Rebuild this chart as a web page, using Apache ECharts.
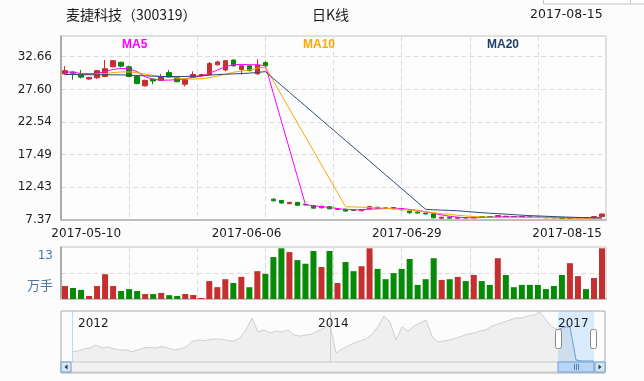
<!DOCTYPE html>
<html><head><meta charset="utf-8">
<script src="https://cdn.jsdelivr.net/npm/echarts@6/dist/echarts.min.js"></script>
<style>html,body{margin:0;padding:0;background:#fcfcfc;}#c{width:644px;height:381px;}</style>
</head><body><div id="c"></div>
<script>
// ---- data ----
const dates = [
 '2017-05-10','2017-05-11','2017-05-12','2017-05-15','2017-05-16','2017-05-17','2017-05-18','2017-05-19','2017-05-22','2017-05-23',
 '2017-05-24','2017-05-25','2017-05-26','2017-05-31','2017-06-01','2017-06-02','2017-06-05','2017-06-06','2017-06-07','2017-06-08',
 '2017-06-09','2017-06-12','2017-06-13','2017-06-14','2017-06-15','2017-06-16','2017-06-19','2017-06-20','2017-06-21','2017-06-22',
 '2017-06-23','2017-06-26','2017-06-27','2017-06-28','2017-06-29','2017-06-30','2017-07-03','2017-07-04','2017-07-05','2017-07-06',
 '2017-07-07','2017-07-10','2017-07-11','2017-07-12','2017-07-13','2017-07-14','2017-07-17','2017-07-18','2017-07-19','2017-07-20',
 '2017-07-21','2017-07-24','2017-07-25','2017-07-26','2017-07-27','2017-07-28','2017-07-31','2017-08-01','2017-08-02','2017-08-03',
 '2017-08-04','2017-08-07','2017-08-08','2017-08-09','2017-08-10','2017-08-11','2017-08-14','2017-08-15'];
const openPrices = [30.0,30.3,30.0,29.2,29.4,29.6,31.1,31.8,31.1,29.6,28.15,29.2,29.0,30.2,29.4,28.4,29.5,29.7,29.9,31.4,30.6,32.15,30.7,31.25,30.0,31.75,
 10.6,10.4,9.9,10.1,9.8,9.6,9.25,9.45,9.0,9.05,8.95,8.8,9.1,9.35,9.25,9.3,9.1,8.75,8.6,8.45,8.3,7.65,7.8,7.65,7.75,7.7,7.9,7.9,7.85,7.95,7.9,7.9,7.85,7.82,7.78,7.75,7.75,7.62,7.68,7.75,7.68,7.9];
const closePrices = [30.5,30.1,29.5,29.45,30.5,30.8,32.05,31.2,29.6,28.5,29.0,28.9,29.6,29.5,28.8,29.1,29.9,29.9,31.6,31.85,32.05,31.25,31.25,30.5,31.35,31.25,
 10.35,10.0,10.1,9.65,9.7,9.2,9.5,9.1,9.1,8.75,8.85,9.0,9.45,9.15,9.15,9.1,8.95,8.5,8.45,8.3,7.7,7.8,7.65,7.75,7.68,7.8,7.8,7.8,8.05,7.8,7.8,7.8,7.78,7.75,7.72,7.7,7.62,7.75,7.75,7.68,7.9,8.3];
const lowPrices = [29.9,29.1,29.3,29.1,29.2,29.5,31.0,31.0,29.5,28.4,28.05,28.4,28.9,29.4,28.7,28.05,29.4,29.6,29.8,31.3,30.4,31.1,29.9,30.4,29.9,31.0,
 10.25,9.9,9.85,9.6,9.65,9.15,9.2,9.05,8.95,8.7,8.8,8.75,9.05,9.1,9.1,9.05,8.85,8.3,8.4,8.25,7.65,7.6,7.6,7.6,7.62,7.65,7.75,7.75,7.8,7.75,7.75,7.75,7.72,7.7,7.68,7.65,7.58,7.58,7.62,7.62,7.65,7.85];
const highPrices = [31.2,30.4,30.6,29.55,30.6,32.15,32.15,31.9,31.3,29.8,29.1,29.3,30.0,30.6,29.5,29.3,30.4,30.0,31.85,32.05,32.15,32.25,31.35,31.35,32.25,31.95,
 10.75,10.45,10.15,10.15,9.85,9.65,9.55,9.5,9.15,9.1,9.0,9.05,9.5,9.4,9.3,9.35,9.15,8.85,8.65,8.5,8.35,7.85,7.85,7.8,7.78,7.85,7.95,7.95,8.1,8.0,7.95,7.95,7.9,7.85,7.8,7.78,7.8,7.8,7.8,7.78,7.95,8.35];
const ma5 = [30.34,30.23,30.08,30.03,30.08,30.34,30.70,30.85,30.80,30.34,29.56,29.15,29.04,29.04,29.10,29.25,29.46,29.67,30.08,30.60,31.11,31.42,31.47,31.42,31.42,31.27,
 26.97,22.67,18.37,14.06,9.75,9.55,9.45,9.3,9.15,9.0,8.95,8.95,9.05,9.1,9.15,9.2,9.15,9.0,8.85,8.65,8.4,8.15,7.95,7.8,7.72,7.72,7.75,7.78,7.85,7.85,7.85,7.83,7.82,7.8,7.78,7.75,7.72,7.7,7.7,7.7,7.72,7.82];
const ma10 = [29.95,29.95,29.95,29.9,29.95,30.05,30.2,30.3,30.3,30.2,29.95,29.75,29.6,29.5,29.35,29.25,29.2,29.25,29.4,29.65,29.95,30.25,30.45,30.6,30.9,31.05,
 28.89,26.73,24.56,22.40,20.24,18.08,15.92,13.75,11.59,9.43,9.4,9.35,9.3,9.25,9.2,9.1,9.0,8.9,8.8,8.65,8.5,8.35,8.25,8.1,8.0,7.9,7.85,7.8,7.78,7.75,7.75,7.75,7.75,7.75,7.72,7.7,7.7,7.68,7.65,7.65,7.65,7.68];
const ma20 = [29.9,29.9,29.88,29.87,29.86,29.86,29.86,29.85,29.8,29.75,29.7,29.65,29.6,29.6,29.6,29.6,29.65,29.7,29.8,29.9,29.95,30.0,30.05,30.12,30.22,30.35,
 29.28,28.22,27.15,26.09,25.02,23.96,22.89,21.82,20.76,19.69,18.63,17.56,16.5,15.43,14.36,13.3,12.23,11.17,10.1,9.03,
 8.95,8.9,8.85,8.8,8.7,8.6,8.5,8.42,8.35,8.28,8.2,8.12,8.05,8.0,7.95,7.9,7.85,7.8,7.77,7.74,7.71,7.68];
const volumes = [3.4,2.9,2.4,0.8,3.4,6.5,3.4,2.1,2.6,2.1,1.3,1.3,1.6,1.0,0.8,1.3,1.05,0.26,4.7,3.1,
 5.2,4.2,5.8,3.1,7.3,6.6,11.0,13.3,12.3,10.2,9.25,12.6,8.4,12.6,4.2,9.7,7.3,8.6,13.3,7.9,
 5.2,6.8,7.9,10.5,3.7,5.2,10.7,5.0,5.2,5.8,4.7,6.3,4.7,3.7,10.7,6.3,3.1,3.7,3.7,3.7,
 2.6,3.4,6.3,9.4,6.0,2.6,5.5,13.3]; // 万手
const tickLabels = ['2017-05-10','2017-06-06','2017-06-29','2017-08-15'];
const priceTicks = [7.37, 12.43, 17.49, 22.54, 27.60, 32.66];
const volUnit = '万手';
const stockName = '麦捷科技（300319）';
const chartKind = '日K线';
const maNames = ['MA5','MA10','MA20'];
const historyValues = [14.1,14.6,16.0,16.7,18.7,16.7,17.4,16.0,15.3,15.3,
 14.2,15.3,16.7,17.0,16.7,17.7,16.7,15.3,16.0,17.4,
 21.1,22.2,21.8,22.5,22.9,22.7,21.8,21.5,23.6,29.1,
 37.4,27.7,29.1,27.0,28.4,27.7,29.1,25.6,24.9,25.6,
 26.3,28.4,30.5,33.2,13.2,16.0,18.0,20.1,21.5,22.9,
 26.3,31.4,38.7,34.6,22.2,31.2,28.4,31.8,33.9,36.0,
 24.9,20.8,21.5,22.2,23.6,24.9,26.3,27.0,28.4,29.1,
 31.8,33.2,34.6,36.0,37.4,37.4,38.7,39.4,41.5,36.0,
 31.2,29.1,31.2,31.2,8.4,7.7,7.7,7.7];
const historyYearLabels = ['2012','2014','2017'];
const historyYearIdx = [1, 41, 81];
const historyLineIdx = [0, 43];
const windowStart = 81;

// ---- build ----
const UP = '#c42f2f', DOWN = '#078a07';
const candleData = dates.map((d, i) => [openPrices[i], closePrices[i], lowPrices[i], highPrices[i]]);
const volData = volumes.map((v, i) => ({value: v, itemStyle: {color: closePrices[i] >= openPrices[i] ? UP : DOWN}}));
const histCats = historyValues.map((v, k) => String(k));
const windowData = historyValues.map((v, k) => k >= windowStart ? v : null);
const volTop = Math.floor(Math.max(...volumes));
const volMax = Math.max(...volumes) * 1.026;
const labelIdx = [7, 27, 47, 67];
const priceStep = (priceTicks[5] - priceTicks[0]) / 5;

const dash = {type: [5, 3], color: '#dcdcdc', width: 1};
const font = 'DejaVu Sans';

const chart = echarts.init(document.getElementById('c'), null, {renderer: 'canvas'});
chart.setOption({
  animation: false,
  backgroundColor: '#fcfcfc',
  title: [
    {text: stockName, left: 66, top: 8, padding: 0, textStyle: {fontSize: 14, fontWeight: 'normal', color: '#1a1a1a', fontFamily: 'Noto Sans CJK SC'}},
    {text: chartKind, left: 312, top: 8, padding: 0, textStyle: {fontSize: 14, fontWeight: 'normal', color: '#1a1a1a', fontFamily: 'Noto Sans CJK SC'}},
    {text: dates[dates.length - 1], left: 530, top: 8, padding: 0, textStyle: {fontSize: 12.5, fontWeight: 'normal', color: '#1a1a1a', fontFamily: font}}
  ],
  legend: [
    {data: [{name: 'MA5', textStyle: {color: '#ff00ff'}}], left: 117, top: 38, icon: 'none', itemWidth: 0, itemHeight: 14, padding: 0, selectedMode: false, textStyle: {fontSize: 12, fontWeight: 'bold', fontFamily: 'Liberation Sans'}},
    {data: [{name: 'MA10', textStyle: {color: '#ffa500'}}], left: 298, top: 38, icon: 'none', itemWidth: 0, itemHeight: 14, padding: 0, selectedMode: false, textStyle: {fontSize: 12, fontWeight: 'bold', fontFamily: 'Liberation Sans'}},
    {data: [{name: 'MA20', textStyle: {color: '#1f3f6e'}}], left: 482, top: 38, icon: 'none', itemWidth: 0, itemHeight: 14, padding: 0, selectedMode: false, textStyle: {fontSize: 12, fontWeight: 'bold', fontFamily: 'Liberation Sans'}}
  ],
  grid: [
    {left: 61, right: 38, top: 36, height: 184, show: true, borderColor: '#c4c4c4', borderWidth: 1, backgroundColor: '#fdfdfd'},
    {left: 61, right: 38, top: 247, height: 52, show: true, borderColor: '#c4c4c4', borderWidth: 1, backgroundColor: '#fdfdfd'},
    {left: 72, right: 50, top: 311, height: 51}
  ],
  xAxis: [
    {type: 'category', gridIndex: 0, data: dates, boundaryGap: true,
     axisLine: {lineStyle: {color: '#bdbdbd', width: 2}}, axisTick: {show: false}, splitLine: {show: false},
     axisLabel: {interval: (i) => labelIdx.includes(i), formatter: (v, i) => tickLabels[labelIdx.indexOf(i)] || '',
       align: 'right', color: '#1a1a1a', fontSize: 12, fontFamily: font, margin: 8}},
    {type: 'value', gridIndex: 0, min: 0, max: 8, interval: 1, position: 'top',
     axisLine: {show: false}, axisTick: {show: false}, axisLabel: {show: false}, splitLine: {show: true, lineStyle: dash}},
    {type: 'category', gridIndex: 1, data: dates, boundaryGap: true,
     axisLine: {lineStyle: {color: '#c4c4c4', width: 2}}, axisTick: {show: false}, axisLabel: {show: false}, splitLine: {show: false}},
    {type: 'value', gridIndex: 1, min: 0, max: 8, interval: 1, position: 'top',
     axisLine: {show: false}, axisTick: {show: false}, axisLabel: {show: false}, splitLine: {show: true, lineStyle: dash}},
    {type: 'category', gridIndex: 2, data: histCats, boundaryGap: false, position: 'top', z: 20,
     axisLine: {show: false}, axisTick: {show: false},
     axisLabel: {inside: true, interval: (i) => historyYearIdx.includes(i), formatter: (v, i) => historyYearLabels[historyYearIdx.indexOf(i)] || '',
       align: 'left', color: '#1a1a1a', fontSize: 12, fontFamily: font, margin: 7},
     splitLine: {show: true, interval: (i) => historyLineIdx.includes(i), lineStyle: {color: ['#bcd8f2', '#cfcfcf'], width: 1}}}
  ],
  yAxis: [
    {type: 'value', gridIndex: 0, min: priceTicks[0], max: 35.87, interval: priceStep,
     axisLine: {show: true, lineStyle: {color: '#9a9a9a', width: 1.5}}, axisTick: {show: false},
     axisLabel: {formatter: (v) => v.toFixed(2), showMinLabel: true, showMaxLabel: false, color: '#222', fontSize: 12, fontFamily: font, margin: 9},
     splitLine: {show: true, lineStyle: dash}},
    {type: 'value', gridIndex: 1, min: 0, max: volMax, interval: volMax / 2,
     axisLine: {show: true, lineStyle: {color: '#9a9a9a', width: 1.5}}, axisTick: {show: false},
     axisLabel: {showMinLabel: false, showMaxLabel: true, verticalAlign: 'top', margin: 8,
       formatter: (v) => v > volMax * 0.9 ? '{a|' + volTop + '}' : (v > volMax * 0.3 ? '{b|' + volUnit + '}' : ''),
       rich: {a: {fontSize: 12, fontFamily: font, color: '#4e77a3', padding: [3, 0, 0, 0]},
              b: {fontSize: 13, fontFamily: 'Noto Sans CJK SC', color: '#4e77a3', padding: [6, 0, 0, 0]}}},
     splitLine: {show: true, lineStyle: dash}},
    {type: 'value', gridIndex: 2, min: 7, max: 42.2, show: false, splitLine: {show: false}}
  ],
  series: [
    {type: 'candlestick', name: 'K', xAxisIndex: 0, yAxisIndex: 0, data: candleData, barWidth: 5,
     itemStyle: {color: UP, color0: DOWN, borderColor: UP, borderColor0: DOWN, borderWidth: 1}},
    {type: 'line', name: maNames[0], xAxisIndex: 0, yAxisIndex: 0, data: ma5, showSymbol: false, symbol: 'none',
     lineStyle: {color: '#ff00ff', width: 1}, itemStyle: {color: '#ff00ff'}, z: 3},
    {type: 'line', name: maNames[1], xAxisIndex: 0, yAxisIndex: 0, data: ma10, showSymbol: false, symbol: 'none',
     lineStyle: {color: '#ffa500', width: 1}, itemStyle: {color: '#ffa500'}, z: 3},
    {type: 'line', name: maNames[2], xAxisIndex: 0, yAxisIndex: 0, data: ma20, showSymbol: false, symbol: 'none',
     lineStyle: {color: '#2a4a78', width: 1}, itemStyle: {color: '#2a4a78'}, z: 3},
    {type: 'bar', name: 'VOL', xAxisIndex: 2, yAxisIndex: 1, data: volData, barWidth: 6},
    {type: 'line', name: 'HIST', xAxisIndex: 4, yAxisIndex: 2, data: historyValues, showSymbol: false, symbol: 'none',
     lineStyle: {color: '#cfcfcf', width: 1}, areaStyle: {color: '#efefef', opacity: 1, origin: 'start'},
     markArea: {silent: true, itemStyle: {color: 'rgba(190,220,250,0.55)'}, data: [[{xAxis: windowStart}, {xAxis: historyValues.length - 1}]]}},
    {type: 'line', name: 'WIN', xAxisIndex: 4, yAxisIndex: 2, data: windowData, showSymbol: false, symbol: 'none',
     lineStyle: {color: '#6aa6e2', width: 1}, areaStyle: {color: 'rgba(150,195,240,0.55)', origin: 'start'}}
  ],
  graphic: [
    {type: 'rect', shape: {x: 61, y: 311, width: 544, height: 62}, style: {fill: 'none', stroke: '#a8a8a8', lineWidth: 1}, z: 50},
    {type: 'rect', shape: {x: 61, y: 362, width: 544, height: 10}, style: {fill: '#f1f1f1', stroke: '#c8c8c8', lineWidth: 1}, z: 50},
    {type: 'rect', shape: {x: 61, y: 362, width: 10, height: 10}, style: {fill: '#d4e7f9', stroke: '#6fa0d4', lineWidth: 1}, z: 51},
    {type: 'polygon', shape: {points: [[67.5, 364.5], [67.5, 369.5], [64.5, 367]]}, style: {fill: '#333'}, z: 52},
    {type: 'rect', shape: {x: 595, y: 362, width: 10, height: 10}, style: {fill: '#d4e7f9', stroke: '#6fa0d4', lineWidth: 1}, z: 51},
    {type: 'polygon', shape: {points: [[598.5, 364.5], [598.5, 369.5], [601.5, 367]]}, style: {fill: '#333'}, z: 52},
    {type: 'rect', shape: {x: 558, y: 362, width: 36, height: 10}, style: {fill: '#b8d6f3', stroke: '#6fa0d4', lineWidth: 1}, z: 51},
    {type: 'line', shape: {x1: 574.5, y1: 364, x2: 574.5, y2: 370}, style: {stroke: '#4f82b8', lineWidth: 1}, z: 52},
    {type: 'line', shape: {x1: 576.5, y1: 364, x2: 576.5, y2: 370}, style: {stroke: '#4f82b8', lineWidth: 1}, z: 52},
    {type: 'line', shape: {x1: 578.5, y1: 364, x2: 578.5, y2: 370}, style: {stroke: '#4f82b8', lineWidth: 1}, z: 52},
    {type: 'rect', shape: {x: 555.5, y: 329.5, width: 6, height: 19, r: 2}, style: {fill: '#ffffff', stroke: '#888', lineWidth: 1}, z: 60},
    {type: 'rect', shape: {x: 590.5, y: 329.5, width: 6, height: 19, r: 2}, style: {fill: '#ffffff', stroke: '#888', lineWidth: 1}, z: 60},
    {type: 'rect', shape: {x: 543.5, y: -10, width: 110, height: 14}, style: {fill: '#ffffff', stroke: '#c4c4c4', lineWidth: 1}, z: 60},
    {type: 'line', shape: {x1: 630.5, y1: 0, x2: 630.5, y2: 4}, style: {stroke: '#c4c4c4', lineWidth: 1}, z: 61}
  ]
});
</script>
</body></html>
